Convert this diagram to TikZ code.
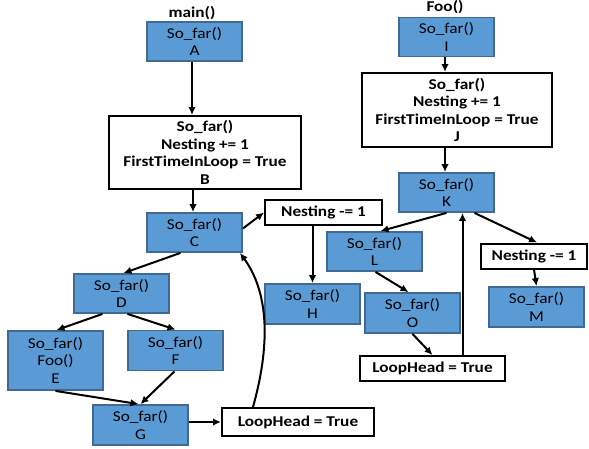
\documentclass[tikz,border=0pt]{standalone}
\usepackage{fontspec}
\setmainfont{Carlito}[FakeStretch=1.15]
\usetikzlibrary{arrows.meta,calc}
\definecolor{boxblue}{RGB}{91,155,213}
\definecolor{boxedge}{RGB}{65,105,145}
\begin{document}
\begin{tikzpicture}[x=1pt,y=-1pt,
  every node/.style={font=\fontsize{15}{17.5}\selectfont, align=center, inner sep=0pt},
  bluebox/.style={draw=boxedge, fill=boxblue, line width=1.8pt, minimum width=95pt, minimum height=39pt},
  whitebox/.style={draw=black, fill=white, line width=2pt, font=\fontsize{15}{17.5}\selectfont\bfseries},
  title/.style={font=\fontsize{15}{17.5}\selectfont\bfseries},
  conn/.style={line width=2pt, -{Latex[length=8pt,width=7.5pt]}}]
\useasboundingbox (0,0) rectangle (589,448);
% titles
\node[title] (tmain) at (192,13) {main()};
\node[title] (tfoo) at (445,7) {Foo()};
% main
\node[bluebox] (A) at (194.5,41.5) {So\_far()\\A};
\node[whitebox, minimum width=192pt, minimum height=73pt] (B) at (205,152.5) {So\_far()\\Nesting += 1\\FirstTimeInLoop = True\\B};
\node[bluebox] (C) at (194.5,232.5) {So\_far()\\C};
\node[bluebox] (D) at (121.5,293.5) {So\_far()\\D};
\node[bluebox, minimum height=59pt] (E) at (55.5,360.5) {So\_far()\\Foo()\\E};
\node[bluebox, minimum height=40pt] (F) at (175.5,350.5) {So\_far()\\F};
\node[bluebox, minimum height=40pt] (G) at (140.5,425) {So\_far()\\G};
\node[whitebox, minimum width=152pt, minimum height=28pt] (LH1) at (298,422) {LoopHead = True};
\node[whitebox, minimum width=117pt, minimum height=25pt] (NL) at (323.5,212.5) {Nesting -= 1};
\node[bluebox, minimum height=40pt] (H) at (312.5,304) {So\_far()\\H};
% Foo
\node[bluebox] (I) at (446.5,37) {So\_far()\\I};
\node[whitebox, minimum width=190pt, minimum height=74pt] (J) at (457,110) {So\_far()\\Nesting += 1\\FirstTimeInLoop = True\\J};
\node[bluebox] (K) at (446.5,192.5) {So\_far()\\K};
\node[bluebox] (L) at (374.5,251.5) {So\_far()\\L};
\node[bluebox, minimum height=40pt] (O) at (412.5,313) {So\_far()\\O};
\node[whitebox, minimum width=145pt, minimum height=25pt] (LH2) at (432.5,368.5) {LoopHead = True};
\node[whitebox, minimum width=106pt, minimum height=25pt] (NR) at (534,256) {Nesting -= 1};
\node[bluebox, minimum height=40pt] (M) at (536.5,307) {So\_far()\\M};
% connectors main
\draw[conn] ([xshift=-2.5pt]A.south) -- ([xshift=-2.5pt]A.south |- B.north);
\draw[conn] ([xshift=-1.5pt]C.north |- B.south) -- ([xshift=-1.5pt]C.north);
\draw[conn] ([yshift=4pt]C.east) -- (NL.west);
\draw[conn] ([xshift=-14pt]C.south) -- ([xshift=2pt]D.north);
\draw[conn] ([xshift=-19pt]D.south) -- ([xshift=1pt]E.north);
\draw[conn] ([xshift=6pt]D.south) -- (F.north);
\draw[conn] (E.south) -- ([xshift=-2pt]G.north);
\draw[conn] ([xshift=-1pt]F.south) -- (G.north);
\draw[conn] ([yshift=3pt]G.east) -- ([yshift=3pt]G.east -| LH1.west);
\draw[conn] ([xshift=-45pt]LH1.north) .. controls +(19,-68) and +(27,37) .. ([xshift=-3pt]C.south east);
\draw[conn] (H.north |- NL.south) -- (H.north);
% connectors Foo
\draw[conn] ([xshift=-1.5pt]I.south) -- ([xshift=-1.5pt]I.south |- J.north);
\draw[conn] ([xshift=-1.5pt]K.north |- J.south) -- ([xshift=-1.5pt]K.north);
\draw[conn] (K.south) -- ([xshift=6pt]L.north);
\draw[conn] ([xshift=28pt]K.south) -- ([xshift=3pt]NR.north);
\draw[conn] (NR.south) -- (M.north);
\draw[conn] ([xshift=1pt]L.south) -- ([xshift=-4pt]O.north);
\draw[conn] (O.south) -- (LH2.north);
\draw[conn] ([xshift=30pt]LH2.north) -- ([xshift=30pt]LH2.north |- K.south);
\end{tikzpicture}
\end{document}
